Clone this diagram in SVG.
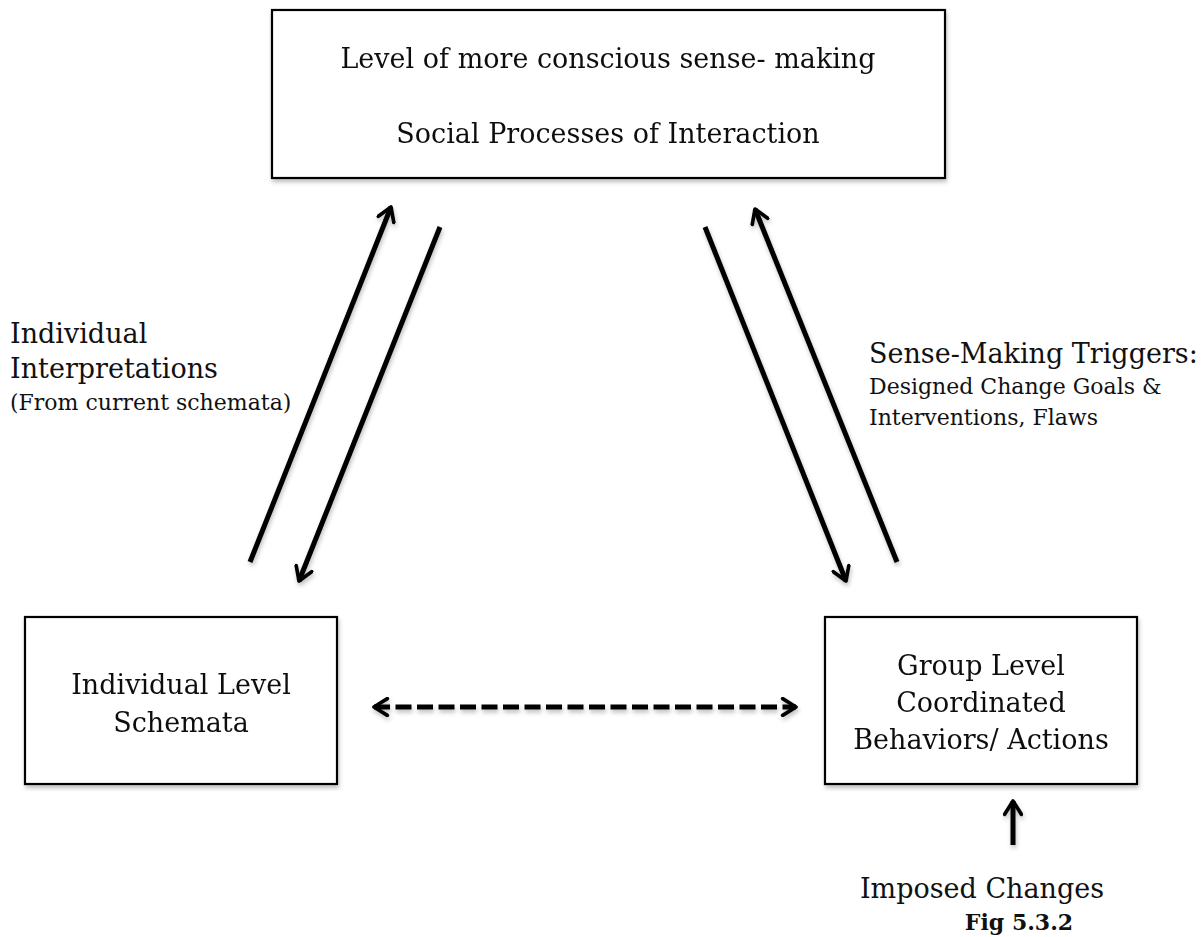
<svg xmlns="http://www.w3.org/2000/svg" width="1201" height="937" viewBox="0 0 1201 937">
<defs>
<style>
.box{fill:#fff;stroke:#000;stroke-width:2.2}
.t{font-family:"DejaVu Serif","Liberation Serif",serif;fill:#111}
.big{font-size:27px}
.sm{font-size:22px}
.ln{stroke:#000;stroke-width:5;fill:none;stroke-linecap:butt}
</style>
<marker id="ah" viewBox="0 0 12 12" refX="10" refY="6" markerWidth="4" markerHeight="4" orient="auto-start-reverse" markerUnits="strokeWidth">
<path d="M2,1 L10,6 L2,11" fill="none" stroke="#000" stroke-width="2.2" stroke-linecap="round" stroke-linejoin="round"/>
</marker>
<filter id="sh" x="-10%" y="-10%" width="120%" height="130%"><feDropShadow dx="1" dy="3" stdDeviation="2" flood-color="#000" flood-opacity="0.25"/></filter>
</defs>
<g id="top-node" filter="url(#sh)">
<rect class="box" x="272" y="10" width="673" height="168"/>
<text class="t big" x="608" y="68" text-anchor="middle">Level of more conscious sense- making</text>
<text class="t big" x="608" y="143" text-anchor="middle">Social Processes of Interaction</text>
</g>
<g id="left-node" filter="url(#sh)">
<rect class="box" x="25" y="617" width="312" height="167"/>
<text class="t big" x="181" y="694" text-anchor="middle">Individual Level</text>
<text class="t big" x="181" y="732" text-anchor="middle">Schemata</text>
</g>
<g id="right-node" filter="url(#sh)">
<rect class="box" x="825" y="617" width="312" height="167"/>
<text class="t big" x="981" y="675" text-anchor="middle">Group Level</text>
<text class="t big" x="981" y="712" text-anchor="middle">Coordinated</text>
<text class="t big" x="981" y="749" text-anchor="middle">Behaviors/ Actions</text>
</g>
<g id="labels">
<text class="t big" x="10" y="343">Individual</text>
<text class="t big" x="10" y="378">Interpretations</text>
<text class="t sm" x="10" y="410">(From current schemata)</text>
<text class="t big" x="869" y="363" font-size="26">Sense-Making Triggers:</text>
<text class="t sm" x="869" y="394">Designed Change Goals &amp;</text>
<text class="t sm" x="869" y="425">Interventions, Flaws</text>
<text class="t big" x="982" y="898" text-anchor="middle">Imposed Changes</text>
<text class="t sm" x="1019" y="930" text-anchor="middle" font-weight="bold" font-size="21">Fig 5.3.2</text>
</g>
<g id="connectors" filter="url(#sh)">
<line class="ln" x1="250" y1="562" x2="391" y2="207" marker-end="url(#ah)"/>
<line class="ln" x1="440" y1="227" x2="299" y2="581" marker-end="url(#ah)"/>
<line class="ln" x1="705" y1="227" x2="846" y2="581" marker-end="url(#ah)"/>
<line class="ln" x1="897" y1="562" x2="755" y2="209" marker-end="url(#ah)"/>
<line class="ln" x1="374" y1="707" x2="796" y2="707" stroke-dasharray="16,5.5" marker-start="url(#ah)" marker-end="url(#ah)"/>
<line class="ln" x1="1013" y1="845" x2="1013" y2="801" marker-end="url(#ah)"/>
</g>
</svg>
